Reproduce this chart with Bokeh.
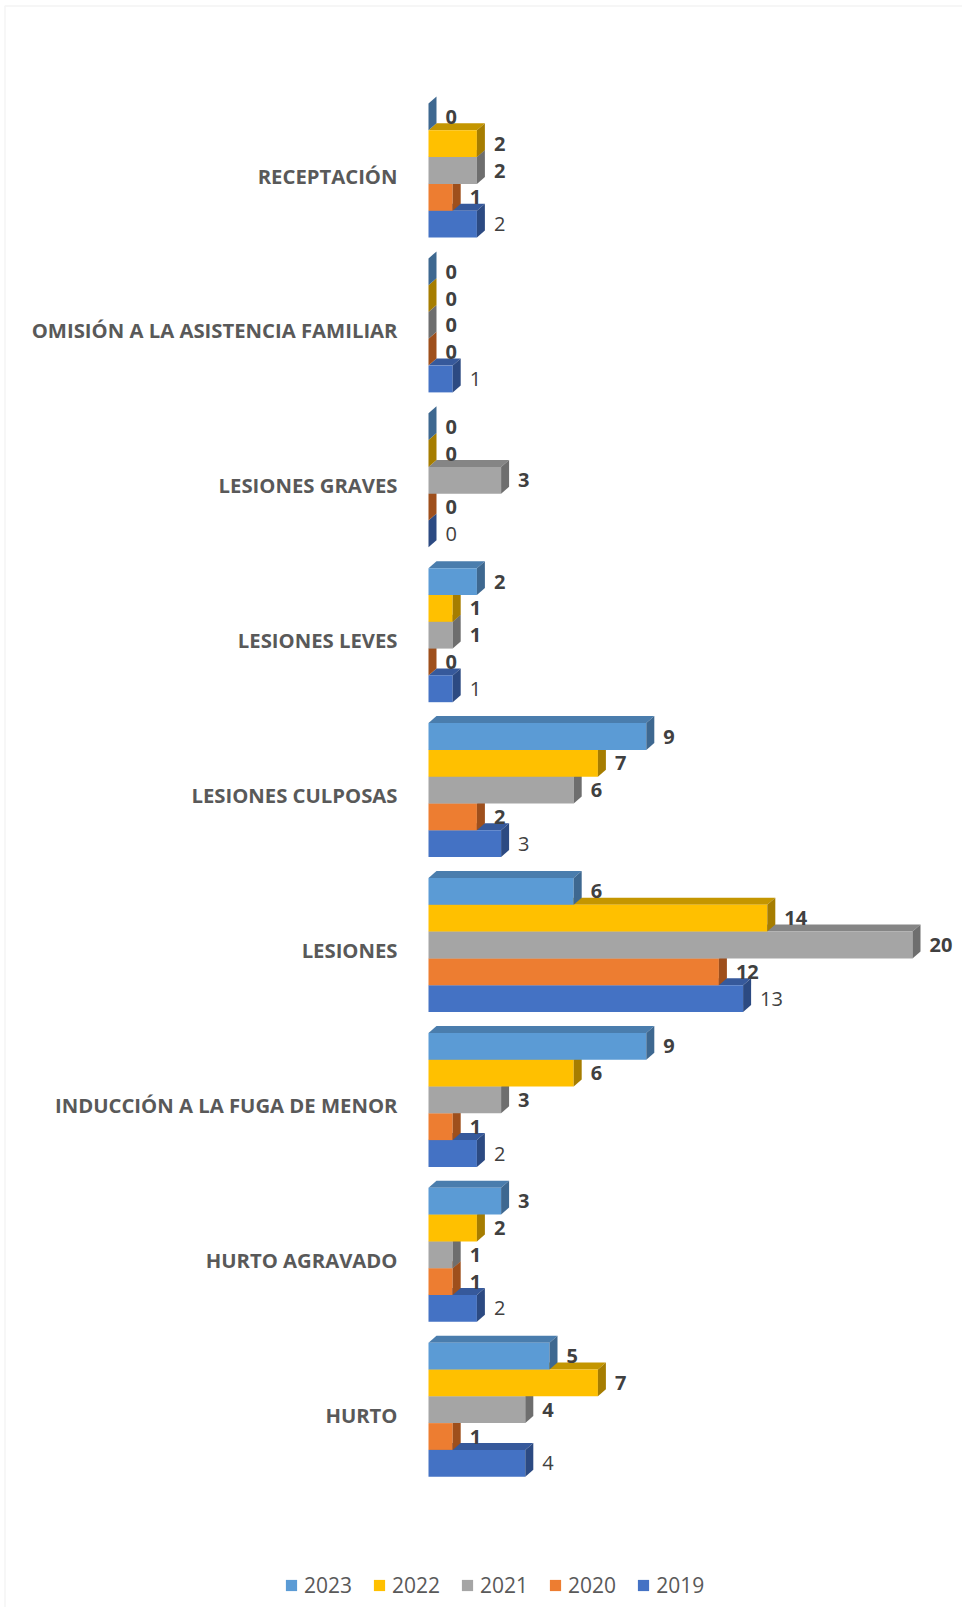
from bokeh.plotting import figure
from bokeh.models import Range1d, Legend, LegendItem, BoxAnnotation, ColumnDataSource
from bokeh.core.properties import value
from bokeh.embed import file_html
from bokeh.resources import INLINE

# ---------------- data ----------------
categories = ["RECEPTACIÓN", "OMISIÓN A LA ASISTENCIA FAMILIAR", "LESIONES GRAVES",
              "LESIONES LEVES", "LESIONES CULPOSAS", "LESIONES",
              "INDUCCIÓN A LA FUGA DE MENOR", "HURTO AGRAVADO", "HURTO"]
years = ["2023", "2022", "2021", "2020", "2019"]
v2023 = [0, 0, 0, 2, 9, 6, 9, 3, 5]
v2022 = [2, 0, 0, 1, 7, 14, 6, 2, 7]
v2021 = [2, 0, 3, 1, 6, 20, 3, 1, 4]
v2020 = [1, 0, 0, 0, 2, 12, 1, 1, 1]
v2019 = [2, 1, 0, 1, 3, 13, 2, 2, 4]

series = {"2023": v2023, "2022": v2022, "2021": v2021, "2020": v2020, "2019": v2019}
front_colors = {"2023": "#5B9BD5", "2022": "#FFC000", "2021": "#A5A5A5", "2020": "#ED7D31", "2019": "#4472C4"}
top_colors = {"2023": "#4A7DAD", "2022": "#C49600", "2021": "#858585", "2020": "#BF6428", "2019": "#36599B"}
side_colors = {"2023": "#3E6890", "2022": "#A67D00", "2021": "#6E6E6E", "2020": "#9E4F1C", "2019": "#2C4A82"}

# ---------------- geometry (pixel scales) ----------------
W, H = 962, 1607
LEFT = 428            # canvas x of value zero
PX_X = 24.2           # px per unit of value
PX_Y = 154.9          # px per category
LABEL_Y0 = 1414.2     # canvas y of lowest category label
x_start = -LEFT / PX_X
x_end = (W - LEFT) / PX_X
y_top = LABEL_Y0 / PX_Y
y_bot = -(H - LABEL_Y0) / PX_Y

DX = 8 / PX_X
DY = 7 / PX_Y
BH = 26.8 / PX_Y
SHIFT = 5 / PX_Y

n = len(categories)
pos = [n - 1 - k for k in range(n)]

p = figure(width=W, height=H, output_backend="svg", toolbar_location=None,
           x_range=Range1d(x_start, x_end), y_range=Range1d(y_bot, y_top),
           x_axis_location=None, y_axis_location=None,
           min_border=0, min_border_left=0, min_border_right=0,
           min_border_top=0, min_border_bottom=0)
p.outline_line_color = None
p.xgrid.visible = False
p.ygrid.visible = False
p.background_fill_color = "white"
p.border_fill_color = "white"

# chart border (left and top visible)
border = BoxAnnotation(left=4.5, right=5000, top=5.5, bottom=5000,
                       left_units="canvas", right_units="canvas",
                       top_units="canvas", bottom_units="canvas",
                       fill_color=None, fill_alpha=0, line_color="#D9D9D9", line_width=1.5)
p.add_layout(border)

# category labels at the category positions of the y scale
p.text(x=[0] * n, y=pos, text=categories, x_offset=-31,
       text_align="right", text_baseline="middle",
       text_font=value("Open Sans"), text_font_style="bold",
       text_font_size="20.3px", text_color="#595959")

draw_order = ["2019", "2020", "2021", "2022", "2023"]
front_renderers = {}
label_sources = {}
for j, yr in enumerate(draw_order):
    vals = series[yr]
    yc = [pos[k] + SHIFT + (j - 2) * BH for k in range(n)]
    y0 = [c - BH / 2 for c in yc]
    y1 = [c + BH / 2 for c in yc]
    top_xs = [[0, v, v + DX, DX] for v in vals]
    top_ys = [[a, a, a + DY, a + DY] for a in y1]
    side_xs = [[v, v, v + DX, v + DX] for v in vals]
    side_ys = [[b, a, a + DY, b + DY] for a, b in zip(y1, y0)]
    p.patches(xs=top_xs, ys=top_ys, fill_color=top_colors[yr], line_color=None)
    src = ColumnDataSource(dict(left=[0] * n, right=vals, bottom=y0, top=y1))
    front_renderers[yr] = p.quad(left="left", right="right", bottom="bottom", top="top",
                                 source=src, fill_color=front_colors[yr], line_color=None)
    p.patches(xs=side_xs, ys=side_ys, fill_color=side_colors[yr], line_color=None)
    label_sources[yr] = ColumnDataSource(dict(x=vals, y=yc, t=[str(v) for v in vals]))

for yr in draw_order:
    p.text(x="x", y="y", text="t", source=label_sources[yr], x_offset=17,
           text_align="left", text_baseline="middle",
           text_font=value("Open Sans"), text_font_size="20px",
           text_font_style="normal" if yr == "2019" else "bold",
           text_color="#404040")

legend = Legend(items=[LegendItem(label=yr, renderers=[front_renderers[yr]]) for yr in years],
                orientation="horizontal", location=(284, 8),
                padding=0, margin=0, spacing=20, border_line_color=None,
                background_fill_alpha=0, glyph_width=14, glyph_height=14,
                label_standoff=6, label_text_font="Open Sans",
                label_text_font_size="21px", label_text_color="#595959")
p.add_layout(legend, "center")

open("out.html", "w").write(file_html(p, INLINE))
